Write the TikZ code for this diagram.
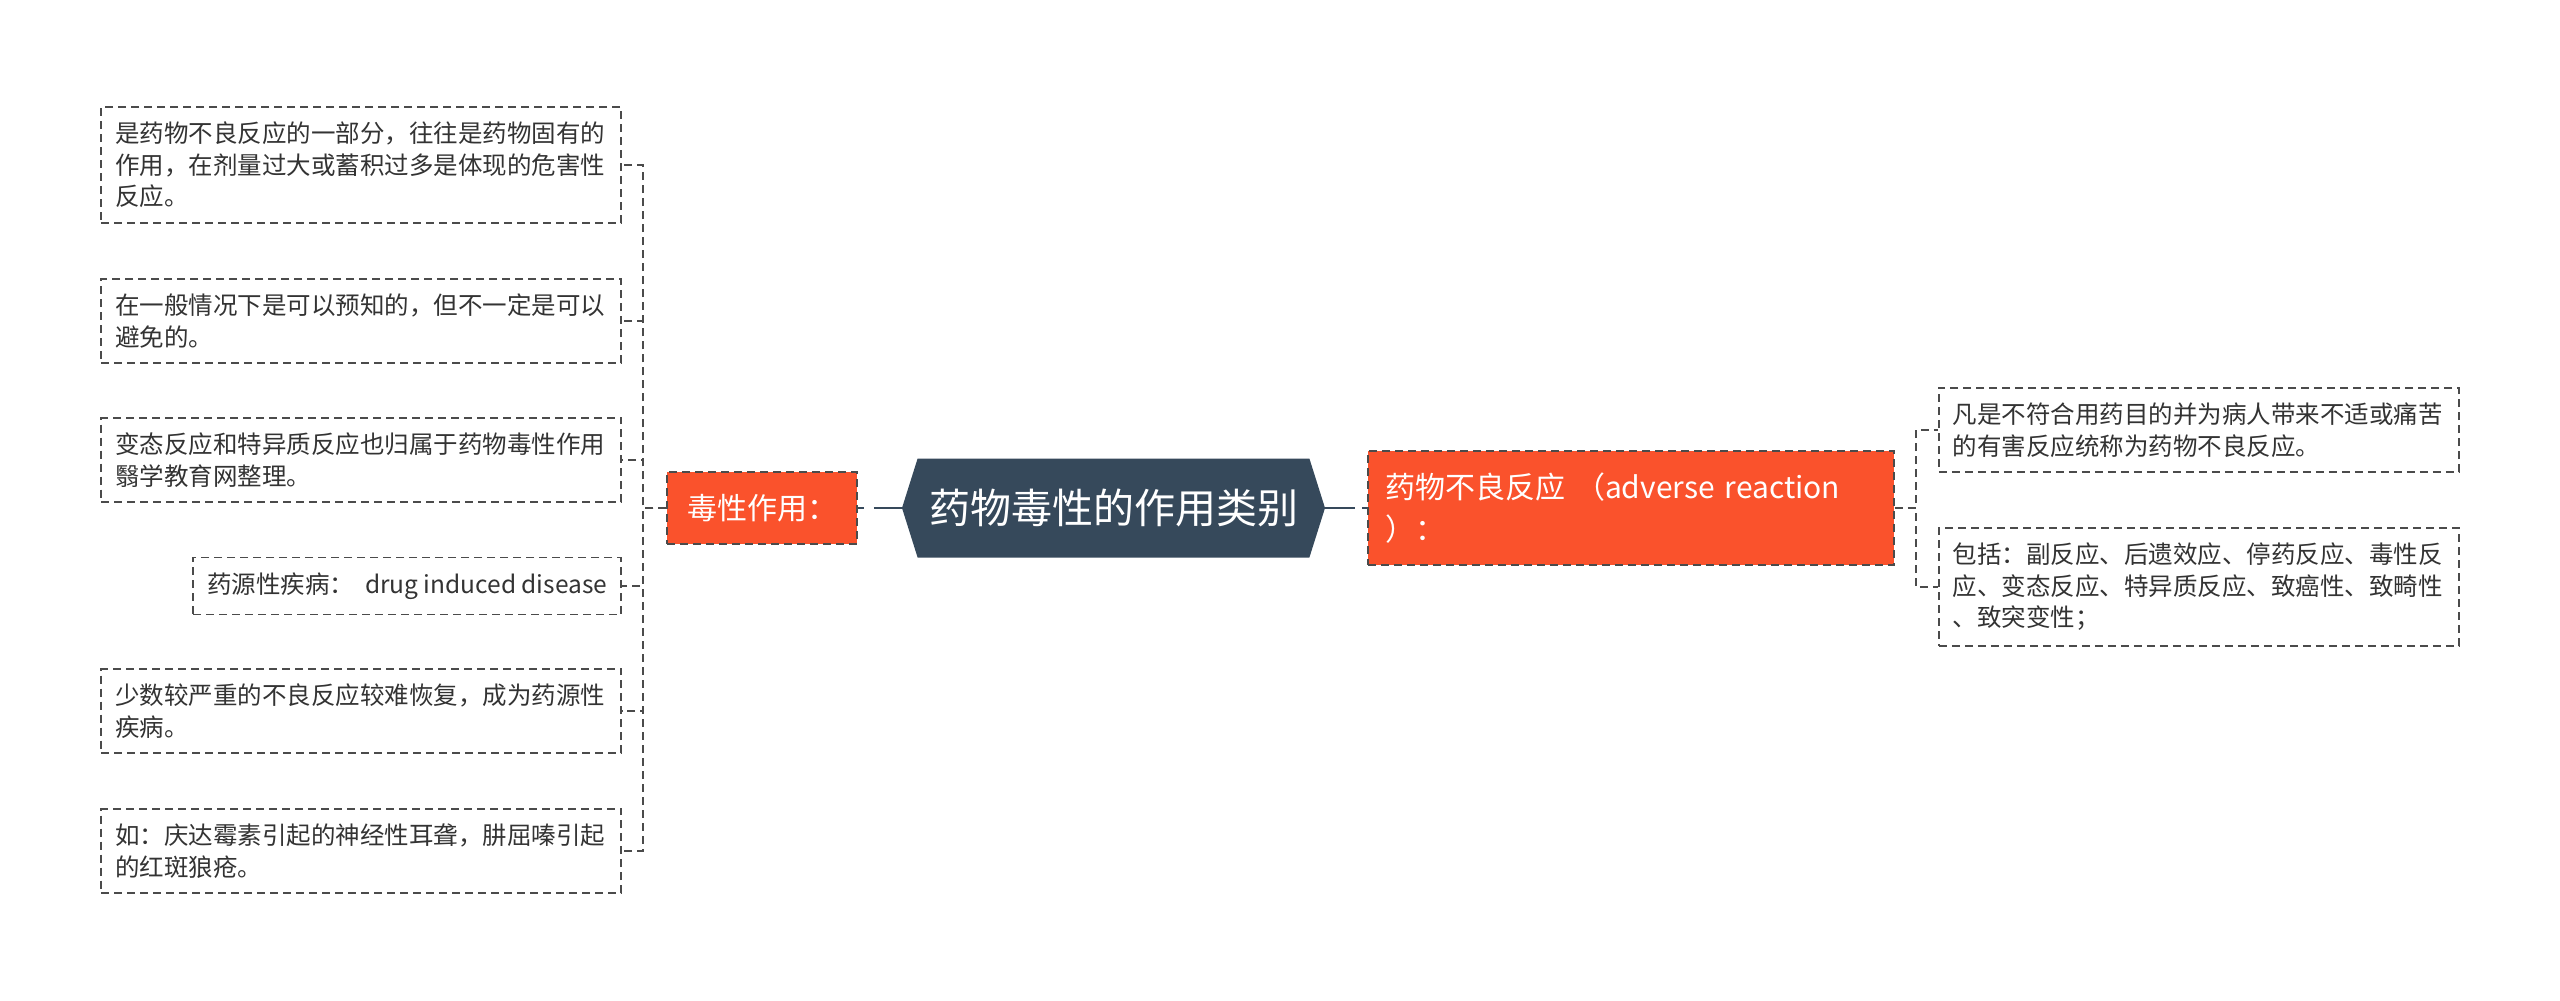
\documentclass[tikz,border=0pt]{standalone}
\usepackage{fontspec}
\newfontfamily\cjk{Noto Sans CJK SC}
\usetikzlibrary{shapes.symbols,positioning}
\definecolor{myorange}{RGB}{250,82,44}
\definecolor{myslate}{RGB}{54,73,91}
\definecolor{mygray}{RGB}{75,75,75}
\tikzstyle{leaf}=[draw=mygray,dash pattern=on 4pt off 2.5pt,line width=0.8pt,fill=white,align=left,text width=246pt,inner xsep=7pt,inner ysep=7.5pt,text=black!80,font={\cjk\fontsize{12.25pt}{15.75pt}\selectfont}]
\tikzstyle{topic}=[draw=mygray,dash pattern=on 4pt off 2.5pt,line width=0.8pt,fill=myorange,text=white,align=left,font={\cjk\fontsize{15pt}{21pt}\selectfont}]
\tikzstyle{root}=[shape=signal,signal to=west and east,signal pointer angle=145,fill=myslate,text=white,minimum width=211.5pt,minimum height=49.5pt,font={\cjk\fontsize{20.5pt}{24pt}\selectfont}]
\tikzstyle{link}=[draw=mygray,dash pattern=on 4pt off 2.5pt,line width=0.8pt]

\begin{document}
\begin{tikzpicture}[x=0.5pt,y=-0.5pt]
\fill[white] (0,0) rectangle (2560,1001);
\useasboundingbox (0,0) rectangle (2560,1001);
\node [root] (main) at (1113.5,508) {药物毒性的作用类别};
\node [topic,minimum width=95pt,minimum height=36pt,inner xsep=7.5pt] (tox) at (762,508) {毒性作用：};
\node [topic,text width=246pt,inner xsep=8.5pt,minimum height=57pt] (adr) at (1631,508) {药物不良反应 （adverse reaction\\）：};

\node [leaf,anchor=east] (l1) at (622,165) {是药物不良反应的一部分，往往是药物固有的\\作用，在剂量过大或蓄积过多是体现的危害性\\反应。};
\node [leaf,anchor=east] (l2) at (622,321) {在一般情况下是可以预知的，但不一定是可以\\避免的。};
\node [leaf,anchor=east] (l3) at (622,460) {变态反应和特异质反应也归属于药物毒性作用\\翳学教育网整理。};
\node [leaf,anchor=east,text width=] (l4) at (622,586) {药源性疾病：~ drug induced disease};
\node [leaf,anchor=east] (l5) at (622,711) {少数较严重的不良反应较难恢复，成为药源性\\疾病。};
\node [leaf,anchor=east] (l6) at (622,851) {如：庆达霉素引起的神经性耳聋，肼屈嗪引起\\的红斑狼疮。};

\node [leaf,anchor=west] (r1) at (1938,430) {凡是不符合用药目的并为病人带来不适或痛苦\\的有害反应统称为药物不良反应。};
\node [leaf,anchor=west] (r2) at (1938,587) {包括：副反应、后遗效应、停药反应、毒性反\\应、变态反应、特异质反应、致癌性、致畸性\\、致突变性；};

\draw [myslate,line width=1.2pt,dash pattern=on 3pt off 5pt on 40pt] (tox.east) -- (main.west);
\draw [myslate,line width=1.2pt,dash pattern=on 15pt off 3.5pt on 3.5pt off 20pt] (main.east) -- (adr.west);
\foreach \n in {l1,l2,l3,l4,l5,l6}
  \draw [link] (tox.west) -- ++(-23,0) |- (\n.east);
\foreach \n in {r1,r2}
  \draw [link] (adr.east) -- ++(21,0) |- (\n.west);
\end{tikzpicture}
\end{document}
